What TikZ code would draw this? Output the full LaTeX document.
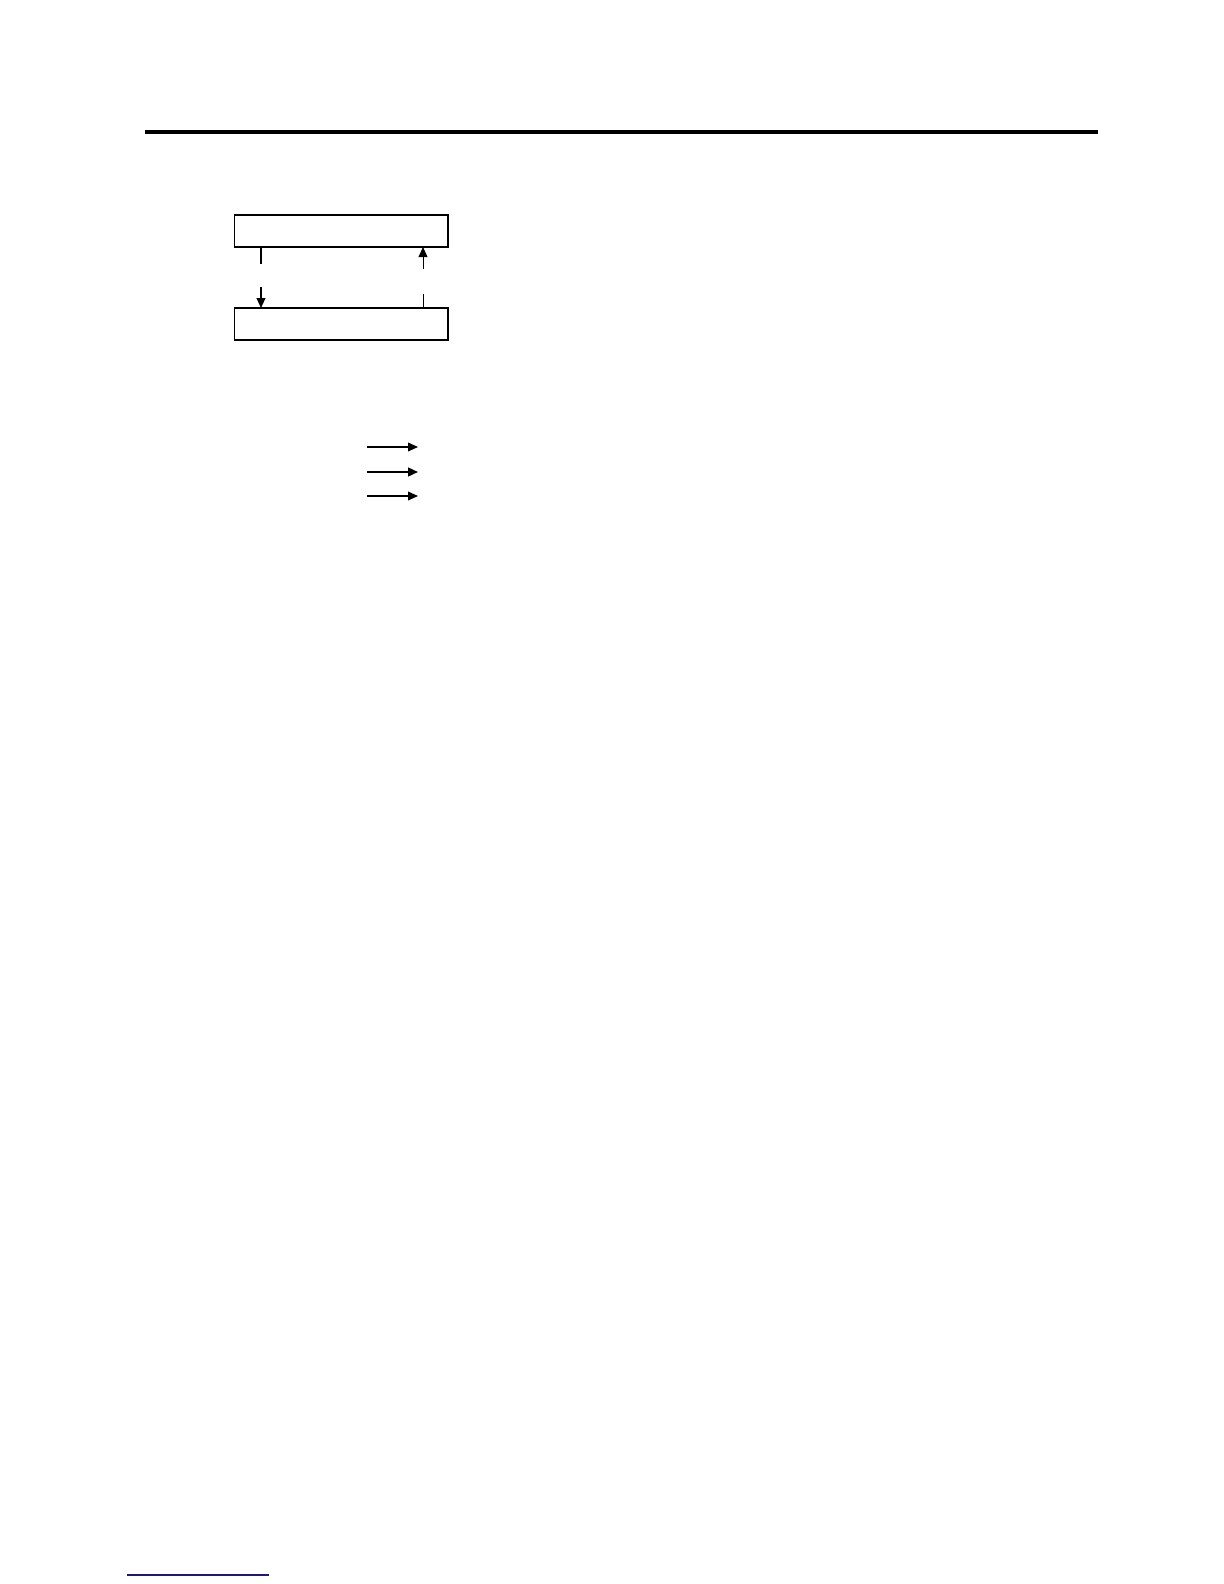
\documentclass[tikz,border=0pt]{standalone}
\usetikzlibrary{positioning,arrows.meta}
\definecolor{footblue}{RGB}{24,24,128}
\tikzset{
  panel/.style={draw, line width=0.7pt, minimum width=106.75pt, minimum height=16pt, inner sep=0pt, outer sep=0pt},
  flow/.style={-{Triangle[length=5pt,width=4.4pt]}},
}
\begin{document}
\begin{tikzpicture}[x=0.5pt,y=-0.5pt]
		%%%%% START %%%%%
		\useasboundingbox (0,0) rectangle (1224,1584);
		
		\draw[line width=2pt] (145,132) -- (1098,132);
		
		\node[panel] (upper) at (341.25,231) {};
		\node[panel, below=30.5pt of upper] (lower) {};
		
		\coordinate (downA) at (261,264);
		\coordinate (downB) at (261,287);
		\draw[line width=0.8pt] (upper.south -| downA) -- (downA);
		\draw[line width=0.8pt, flow] (downB) -- (lower.north -| downB);
		
		\coordinate (upA) at (423,294);
		\coordinate (upB) at (423,269);
		\draw[line width=0.5pt] (lower.north -| upA) -- (upA);
		\draw[line width=0.5pt, flow] (upB) -- (upper.south -| upB);
		
		\coordinate (keyA) at (367,447);
		\coordinate (keyAend) at (418,447);
		\coordinate (keyB) at (367,472);
		\coordinate (keyBend) at (418,472);
		\coordinate (keyC) at (367,496);
		\coordinate (keyCend) at (418,496);
		\draw[line width=0.6pt, flow] (keyA) -- (keyAend);
		\draw[line width=1pt, flow] (keyB) -- (keyBend);
		\draw[line width=0.6pt, flow] (keyC) -- (keyCend);
		
		\draw[line width=0.75pt, color=footblue] (127,1575) -- (269,1575);
		
		%%%%% END %%%%%
\end{tikzpicture}
\end{document}
